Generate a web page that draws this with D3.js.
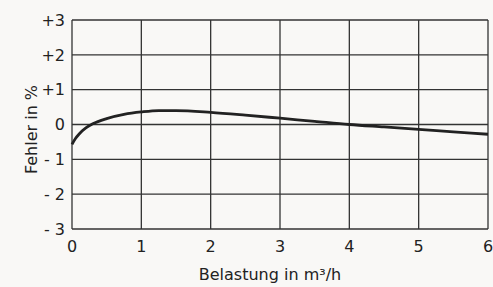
<!DOCTYPE html>
<html><head><meta charset="utf-8">
<script src="https://cdn.jsdelivr.net/npm/d3@7"></script>
<style>
html,body{margin:0;padding:0;background:#f9f8f6;}
svg{display:block;}
text{font-family:"DejaVu Sans",sans-serif;fill:#222;}
</style></head>
<body>
<script>
const loadX = [0, 0.05, 0.1, 0.2, 0.3, 0.5, 0.75, 1, 1.25, 1.5, 2, 2.5, 3, 3.5, 4, 4.5, 5, 5.5, 6];
const errorPct = [-0.57, -0.4, -0.28, -0.1, 0.02, 0.17, 0.29, 0.36, 0.4, 0.4, 0.35, 0.27, 0.18, 0.09, 0.0, -0.07, -0.14, -0.21, -0.28];
const xTicks = [0, 1, 2, 3, 4, 5, 6];
const yTicks = [3, 2, 1, 0, -1, -2, -3];
const yTickLabels = ["+3", "+2", "+1", "0", "- 1", "- 2", "- 3"];
const xTitle = "Belastung in m³/h";
const yTitle = "Fehler in %";

const W = 493, H = 287;
const m = {left: 72, right: 5, top: 20, bottom: 58};
const svg = d3.select("body").append("svg").attr("width", W).attr("height", H);
const x = d3.scaleLinear().domain([0, 6]).range([m.left, W - m.right]);
const y = d3.scaleLinear().domain([-3, 3]).range([H - m.bottom, m.top]);

const g = svg.append("g");
// grid
g.selectAll(".vg").data(xTicks).enter().append("line")
  .attr("x1", d => x(d)).attr("x2", d => x(d))
  .attr("y1", y(3)).attr("y2", y(-3))
  .attr("stroke", "#333").attr("stroke-width", 1.3);
g.selectAll(".hg").data(yTicks).enter().append("line")
  .attr("x1", x(0)).attr("x2", x(6))
  .attr("y1", d => y(d)).attr("y2", d => y(d))
  .attr("stroke", "#333").attr("stroke-width", 1.3);

// y tick labels
g.selectAll(".yl").data(yTicks).enter().append("text")
  .attr("x", x(0) - 7).attr("y", d => y(d)).attr("dy", "0.36em")
  .attr("text-anchor", "end").attr("font-size", 16)
  .text((d, i) => yTickLabels[i]);
// x tick labels
g.selectAll(".xl").data(xTicks).enter().append("text")
  .attr("x", d => x(d)).attr("y", y(-3) + 23)
  .attr("text-anchor", "middle").attr("font-size", 16)
  .text(d => d);

// titles
svg.append("text").attr("x", (x(0) + x(6)) / 2 - 10).attr("y", 280)
  .attr("text-anchor", "middle").attr("font-size", 16).text(xTitle);
svg.append("text").attr("transform", `translate(37,${y(0)+5}) rotate(-90)`)
  .attr("text-anchor", "middle").attr("font-size", 16).text(yTitle);

// curve
const line = d3.line().x(d => x(d[0])).y(d => y(d[1])).curve(d3.curveMonotoneX);
g.append("path").datum(loadX.map((v, i) => [v, errorPct[i]]))
  .attr("d", line).attr("fill", "none").attr("stroke", "#222").attr("stroke-width", 2.8);
</script>
</body></html>
